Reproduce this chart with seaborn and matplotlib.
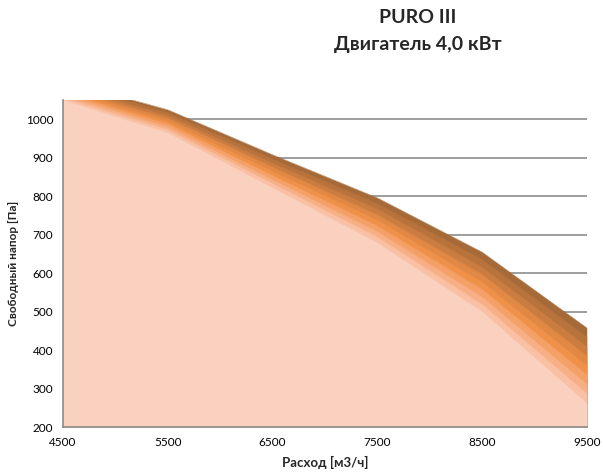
import numpy as np
import pandas as pd
import matplotlib
matplotlib.use("Agg")
import matplotlib.pyplot as plt
import seaborn as sns

# =========================
# data
# =========================
flow = [4500, 5500, 6500, 7500, 8500, 9500]

# pressure curves, from highest speed (darkest) to lowest (lightest)
p1 = [1100, 1025, 908, 796, 655, 458]
p2 = [1094, 1018, 897, 781, 636, 434]
p3 = [1088, 1010, 886, 767, 616, 409]
p4 = [1081, 1003, 876, 752, 597, 385]
p5 = [1075, 995, 865, 738, 577, 360]
p6 = [1069, 988, 854, 723, 558, 336]
p7 = [1063, 980, 843, 708, 538, 311]
p8 = [1056, 973, 833, 694, 519, 287]
p9 = [1050, 965, 822, 679, 500, 262]

curves = [p1, p2, p3, p4, p5, p6, p7, p8, p9]
colors = ["#A66A38", "#B8733D", "#CB7D41", "#E08844", "#F0914A",
          "#F5A067", "#F7B086", "#F9C0A4", "#FAD1BF"]

title = "PURO III\nДвигатель 4,0 кВт"
xlabel = "Расход [м3/ч]"
ylabel = "Свободный напор [Па]"

# =========================
# plot
# =========================
sns.set_style("white")
plt.rcParams["font.family"] = ["Lato", "DejaVu Sans"]

fig = plt.figure(figsize=(6.03, 4.72), dpi=100)
ax = fig.add_axes([0.1045, 0.0953, 0.8685, 0.6927])

grid_col = "#8C8C8C"
for y in range(300, 1001, 100):
    ax.axhline(y, color=grid_col, lw=1.2, zorder=0)

for i, (vals, c) in enumerate(zip(curves, colors)):
    df = pd.DataFrame({"flow": flow, "p": vals})
    ax.fill_between(df["flow"], 200, df["p"], color=c, lw=0, zorder=2 + i)
    sns.lineplot(data=df, x="flow", y="p", color=c, lw=0.3, ax=ax, zorder=2 + i)

ax.set_xlim(4500, 9500)
ax.set_ylim(200, 1050)
ax.set_xticks(range(4500, 9501, 1000))
ax.set_yticks(range(200, 1001, 100))

for s in ["top", "right"]:
    ax.spines[s].set_visible(False)
for s in ["left", "bottom"]:
    ax.spines[s].set_color(grid_col)
    ax.spines[s].set_linewidth(1.2)
    ax.spines[s].set_zorder(20)

ax.tick_params(axis="both", direction="out", length=4, width=1.0,
               color=grid_col, labelsize=8.5, labelcolor="black", pad=3)
ax.set_xlabel(xlabel, fontsize=9.5, fontweight="bold", labelpad=6)
ax.set_ylabel(ylabel, fontsize=8.5, fontweight="bold", labelpad=5)

fig.text(0.693, 0.935, title, ha="center", va="center", fontsize=14,
         fontweight="bold", linespacing=1.7)

fig.savefig("out.png", dpi=100)
